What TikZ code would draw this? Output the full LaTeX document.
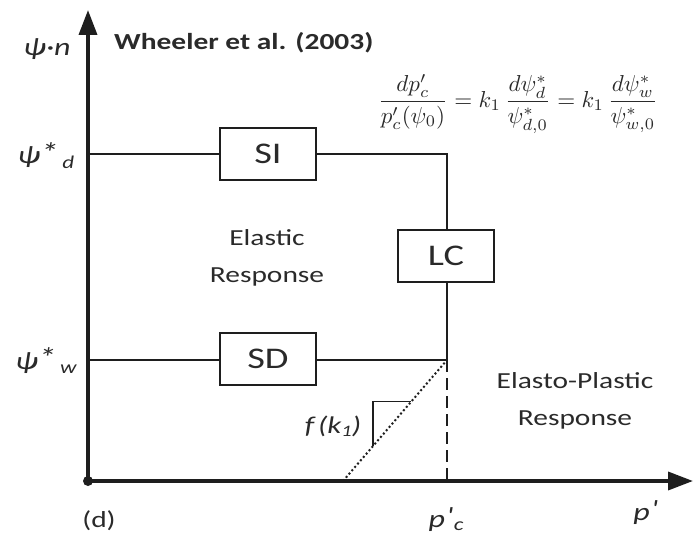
\documentclass[tikz,border=0pt]{standalone}
\usepackage{amsmath}
\usepackage{fontspec}
\setmainfont{Carlito}[FakeStretch=1.28]
\usetikzlibrary{arrows.meta,calc}
\definecolor{ink}{HTML}{1E1E1E}
\definecolor{txt}{HTML}{2A2A2A}
\tikzset{
  axisline/.style={draw=ink, line width=3.6pt, -{Triangle[length=25pt,width=18pt]}},
  thinline/.style={draw=ink, line width=2pt},
  lbox/.style={draw=ink, line width=2pt, fill=white, minimum width=96pt, minimum height=52pt, inner sep=0pt, text=txt, font=\fontsize{30}{32}\selectfont},
  region/.style={text=txt, align=center, font=\fontsize{23}{37}\selectfont},
  ilabel/.style={text=txt, font=\fontsize{25}{28}\selectfont\itshape, inner sep=0pt},
}
\begin{document}
\begin{tikzpicture}[x=1pt,y=-1pt]
\useasboundingbox (0,0) rectangle (697,535);
\coordinate (O) at (88,481);
\coordinate (Ytop) at (88,10);
\coordinate (Xend) at (693,481);
\coordinate (Yd) at (88,154);
\coordinate (C) at (447,154);
\coordinate (W) at (447,360);
\coordinate (Yw) at (88,360);
\coordinate (Pc) at (447,481);
\coordinate (Db) at (343,481);
\coordinate (T1) at ($(Db)!0.29!(W)$);
\coordinate (T2) at ($(Db)!0.656!(W)$);
% boundary lines
\draw[thinline] (Yd) -- (C) -- (W) -- (Yw);
\draw[draw=ink, line width=2pt, dash pattern=on 12pt off 6pt] (W) -- (Pc);
\draw[draw=ink, line width=2pt, dash pattern=on 2pt off 2.4pt] (Db) -- (W);
\draw[thinline, line width=1.7pt] (T1) |- (T2);
% axes
\draw[axisline] (O) -- (Ytop);
\draw[axisline] (O) -- (Xend);
\fill[ink] (O) circle (5pt);
% boxes
\node[lbox] (SI) at (268,154) {SI};
\node[lbox] (SD) at (268,359) {SD};
\node[lbox] (LC) at (446,256) {LC};
% labels
\node[ilabel, anchor=base] (psin) at (47,56) {ψ·n};
\node[text=txt, anchor=base west, inner sep=0pt, font=\fontsize{23}{26}\selectfont\bfseries] (title) at (114,50) {Wheeler et al. (2003)};
\node[ilabel, anchor=base] (psid) at (46,164) {ψ\raisebox{0.1ex}{\fontsize{28}{30}\selectfont *}\,\raisebox{-0.35ex}{\fontsize{18}{20}\selectfont d}};
\node[ilabel, anchor=base] (psiw) at (46,369) {ψ\raisebox{0.1ex}{\fontsize{28}{30}\selectfont *}\,\raisebox{-0.35ex}{\fontsize{18}{20}\selectfont w}};
\node[region] (elastic) at (267,258) {Elastic\\Response};
\node[region] (eplastic) at (575,401) {Elasto-Plastic\\Response};
\node[ilabel, anchor=base, font=\fontsize{24}{26}\selectfont\itshape] (fk) at (333,433) {f\,(k\raisebox{-0.3ex}{\fontsize{16}{18}\selectfont 1})};
\node[text=txt, anchor=base, inner sep=0pt, font=\fontsize{23}{26}\selectfont] (dlab) at (99,527) {(d)};
\node[ilabel, anchor=base] (pclab) at (446,527) {p\kern0.05em\raisebox{0.2ex}{\textquotesingle}\kern0.08em\raisebox{-0.3ex}{\fontsize{18}{20}\selectfont c}};
\node[ilabel, anchor=base] (plab) at (645,520) {p\kern0.05em\raisebox{0.2ex}{\textquotesingle}};
\node[text=txt, inner sep=0pt] (eq) at (518,104) {\resizebox{280pt}{!}{$\displaystyle \frac{dp'_c}{p'_c(\psi_0)} = k_1\,\frac{d\psi^*_d}{\psi^*_{d,0}} = k_1\,\frac{d\psi^*_w}{\psi^*_{w,0}}$}};
\end{tikzpicture}
\end{document}
